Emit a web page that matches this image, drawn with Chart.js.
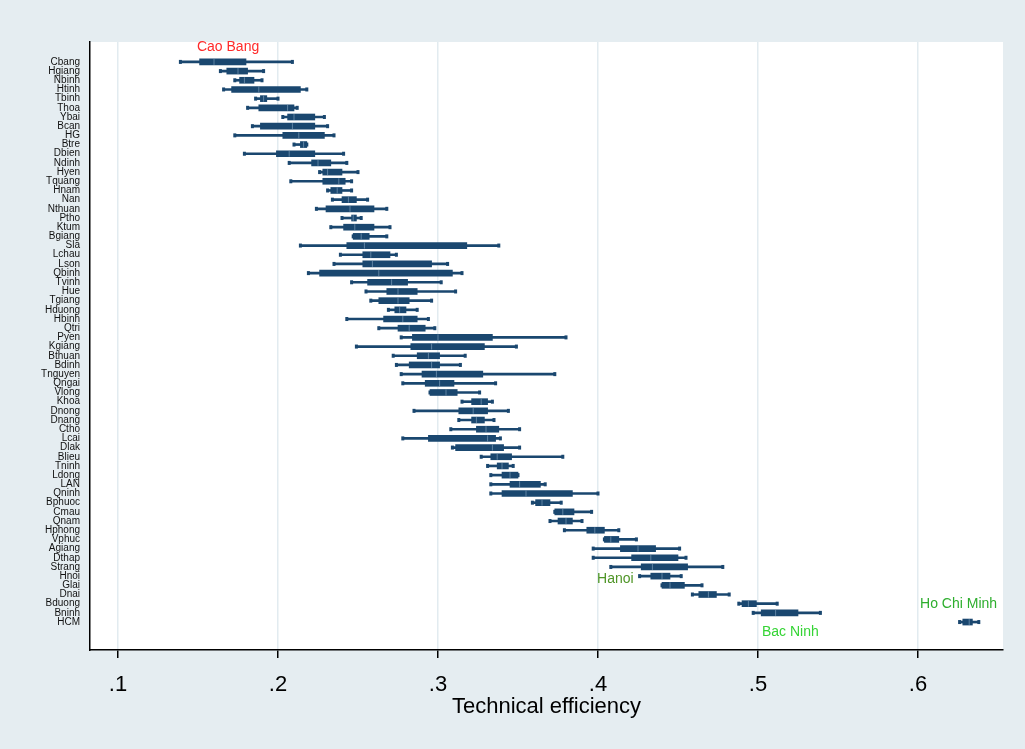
<!DOCTYPE html>
<html>
<head>
<meta charset="utf-8">
<script src="https://cdn.jsdelivr.net/npm/chart.js@4"></script>
<style>
  body { margin: 0; background: #e5edf1; }
  #wrap { width: 1025px; height: 749px; }
</style>
</head>
<body>
<div id="wrap"><canvas id="te" width="1025" height="749"></canvas></div>
<script>
// provinces, top to bottom
var provinces = ["Cbang","Hgiang","Nbinh","Htinh","Tbinh","Thoa","Ybai","Bcan","HG","Btre",
  "Dbien","Ndinh","Hyen","Tquang","Hnam","Nan","Nthuan","Ptho","Ktum","Bgiang",
  "Sla","Lchau","Lson","Qbinh","Tvinh","Hue","Tgiang","Hduong","Hbinh","Qtri",
  "Pyen","Kgiang","Bthuan","Bdinh","Tnguyen","Qngai","Vlong","Khoa","Dnong","Dnang",
  "Ctho","Lcai","Dlak","Blieu","Tninh","Ldong","LAN","Qninh","Bphuoc","Cmau",
  "Qnam","Hphong","Vphuc","Agiang","Dthap","Strang","Hnoi","Glai","Dnai","Bduong",
  "Bninh","HCM"];

// technical efficiency summary per province
var whiskerLow = [0.139,0.164,0.173,0.166,0.186,0.181,0.203,0.184,0.173,0.210,
  0.179,0.207,0.226,0.208,0.231,0.234,0.224,0.240,0.233,0.247,
  0.214,0.239,0.235,0.219,0.246,0.255,0.258,0.269,0.243,0.263,
  0.277,0.249,0.272,0.274,0.277,0.278,0.295,0.315,0.285,0.313,
  0.308,0.278,0.309,0.327,0.331,0.333,0.333,0.333,0.359,0.373,
  0.370,0.379,0.404,0.397,0.397,0.408,0.426,0.440,0.459,0.488,
  0.497,0.626];
var boxLow = [0.151,0.168,0.176,0.171,0.189,0.188,0.206,0.189,0.203,0.214,
  0.199,0.221,0.228,0.228,0.233,0.240,0.230,0.246,0.241,0.247,
  0.243,0.253,0.253,0.226,0.256,0.268,0.263,0.273,0.266,0.275,
  0.284,0.283,0.287,0.282,0.290,0.292,0.295,0.321,0.313,0.321,
  0.324,0.294,0.311,0.333,0.337,0.340,0.345,0.340,0.361,0.373,
  0.375,0.393,0.404,0.414,0.421,0.427,0.433,0.440,0.463,0.490,
  0.502,0.628];
var medians = [0.160,0.175,0.179,0.188,0.191,0.206,0.210,0.209,0.213,0.216,
  0.207,0.225,0.231,0.238,0.237,0.244,0.245,0.247,0.248,0.252,
  0.254,0.258,0.259,0.263,0.271,0.275,0.275,0.276,0.278,0.282,
  0.300,0.296,0.294,0.296,0.299,0.301,0.305,0.327,0.322,0.324,
  0.330,0.331,0.334,0.337,0.340,0.345,0.351,0.355,0.365,0.378,
  0.380,0.398,0.408,0.425,0.433,0.434,0.440,0.445,0.469,0.494,
  0.511,0.632];
var boxHigh = [0.180,0.181,0.185,0.214,0.193,0.210,0.223,0.223,0.229,0.218,
  0.223,0.233,0.240,0.242,0.240,0.249,0.260,0.249,0.260,0.257,
  0.318,0.270,0.296,0.309,0.281,0.287,0.282,0.280,0.287,0.292,
  0.334,0.329,0.301,0.301,0.328,0.310,0.312,0.331,0.331,0.329,
  0.338,0.336,0.341,0.346,0.344,0.350,0.364,0.384,0.370,0.385,
  0.384,0.404,0.413,0.436,0.450,0.456,0.445,0.454,0.474,0.499,
  0.525,0.634];
var whiskerHigh = [0.209,0.191,0.190,0.218,0.200,0.212,0.229,0.231,0.235,0.218,
  0.241,0.243,0.250,0.246,0.246,0.256,0.268,0.252,0.270,0.268,
  0.338,0.274,0.306,0.315,0.302,0.311,0.296,0.287,0.294,0.298,
  0.380,0.349,0.317,0.314,0.373,0.336,0.326,0.334,0.344,0.335,
  0.351,0.339,0.351,0.378,0.347,0.350,0.367,0.400,0.377,0.396,
  0.390,0.413,0.424,0.451,0.455,0.478,0.452,0.465,0.482,0.512,
  0.539,0.638];

var xTicks = [0.1, 0.2, 0.3, 0.4, 0.5, 0.6];

var navy = "#1a476f";
var fontFace = "'Liberation Sans', Arial, sans-serif";

// province names written inside the plot
var callouts = [
  { text: "Cao Bang", x: 0.1688, row: -1.6, color: "#ff2a2a", align: "center" },
  { text: "Hanoi", x: 0.3994, row: 56.35, color: "#4f9527", align: "left" },
  { text: "Ho Chi Minh", x: 0.6013, row: 59.0, color: "#2eae2e", align: "left" },
  { text: "Bac Ninh", x: 0.5025, row: 62.1, color: "#35d435", align: "left" }
];

function rangeData(lo, hi) {
  return provinces.map(function (p, i) {
    return { x: [lo[i], hi[i]], y: i };
  });
}

var backdrop = {
  id: "backdrop",
  beforeDraw: function (chart) {
    var ctx = chart.ctx, a = chart.chartArea;
    ctx.save();
    ctx.fillStyle = "#e5edf1";
    ctx.fillRect(0, 0, chart.width, chart.height);
    ctx.fillStyle = "#ffffff";
    ctx.fillRect(a.left, a.top, a.right - a.left, a.bottom - a.top);
    ctx.restore();
  }
};

var boxMarks = {
  id: "boxMarks",
  afterDatasetsDraw: function (chart) {
    var ctx = chart.ctx;
    var xs = chart.scales.x, ys = chart.scales.y;
    ctx.save();
    for (var i = 0; i < provinces.length; i++) {
      var y = ys.getPixelForValue(i);
      // whisker caps
      ctx.fillStyle = navy;
      [whiskerLow[i], whiskerHigh[i]].forEach(function (v) {
        var x = xs.getPixelForValue(v);
        ctx.fillRect(x - 1.5, y - 2, 3, 4);
      });
      // median
      var m = xs.getPixelForValue(medians[i]);
      ctx.strokeStyle = "rgba(150,180,205,0.55)";
      ctx.lineWidth = 1;
      ctx.beginPath();
      ctx.moveTo(m, y - 3);
      ctx.lineTo(m, y + 3);
      ctx.stroke();
    }
    // callouts
    ctx.font = "14px " + fontFace;
    ctx.textBaseline = "middle";
    callouts.forEach(function (c) {
      ctx.fillStyle = c.color;
      ctx.textAlign = c.align;
      ctx.fillText(c.text, xs.getPixelForValue(c.x), ys.getPixelForValue(c.row));
    });
    ctx.restore();
  }
};

new Chart(document.getElementById("te"), {
  type: "bar",
  data: {
    datasets: [
      {
        label: "whiskers",
        data: rangeData(whiskerLow, whiskerHigh),
        backgroundColor: navy,
        barThickness: 2,
        borderWidth: 0,
        borderSkipped: false,
        grouped: false,
        order: 2
      },
      {
        label: "boxes",
        data: rangeData(boxLow, boxHigh),
        backgroundColor: navy,
        barThickness: 6,
        borderWidth: 0,
        borderSkipped: false,
        grouped: false,
        order: 1
      }
    ]
  },
  options: {
    indexAxis: "y",
    responsive: false,
    animation: false,
    layout: { padding: { left: 0, right: 22, top: 42, bottom: 0 } },
    plugins: { legend: { display: false }, tooltip: { enabled: false } },
    scales: {
      x: {
        type: "linear",
        min: 0.0825,
        max: 0.653125,
        afterBuildTicks: function (scale) {
          scale.ticks = xTicks.map(function (v) { return { value: v }; });
        },
        afterFit: function (scale) { scale.height = 99; },
        grid: {
          color: "#e2ebf0",
          lineWidth: 1.5,
          tickColor: "#000",
          tickLength: 8
        },
        border: { color: "#000", width: 1.5 },
        ticks: {
          color: "#000",
          padding: 14,
          font: { family: fontFace, size: 22 },
          callback: function (v) { return String(v).replace("0.", "."); }
        },
        title: {
          display: true,
          text: "Technical efficiency",
          color: "#000",
          padding: { top: 0, bottom: 29 },
          font: { family: fontFace, size: 22 }
        }
      },
      y: {
        type: "linear",
        reverse: true,
        min: -1.634,
        max: 63.51,
        afterBuildTicks: function (scale) {
          scale.ticks = provinces.map(function (p, i) { return { value: i }; });
        },
        afterFit: function (scale) { scale.width = 90; },
        grid: { display: false, drawTicks: false },
        border: { color: "#000", width: 1.5 },
        ticks: {
          color: "#111",
          padding: 10,
          autoSkip: false,
          font: { family: fontFace, size: 10 },
          callback: function (v) { return provinces[v]; }
        }
      }
    }
  },
  plugins: [backdrop, boxMarks]
});
</script>
</body>
</html>
